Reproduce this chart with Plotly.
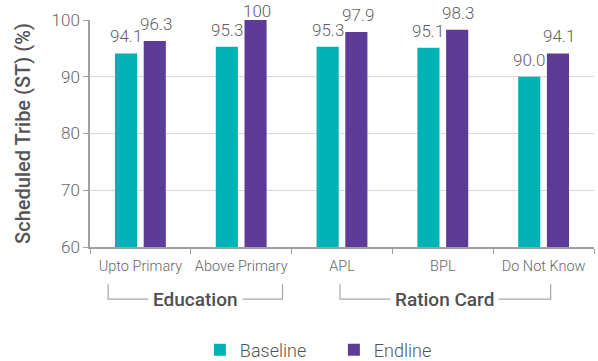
import plotly.graph_objects as go

# Data
categories = ['Upto Primary', 'Above Primary', 'APL', 'BPL', 'Do Not Know']
baseline = [94.1, 95.3, 95.3, 95.1, 90.0]
endline = [96.3, 100, 97.9, 98.3, 94.1]
baseline_text = ['94.1', '95.3', '95.3', '95.1', '90.0']
endline_text = ['96.3', '100', '97.9', '98.3', '94.1']
groups = ['Education', 'Ration Card']

TEAL = '#00B2B3'
PURPLE = '#5C3C97'
FONT = 'Roboto'
PX_PER_UNIT = 227 / 40  # plot height / y range

fig = go.Figure()

fig.add_trace(go.Bar(x=categories, y=baseline, name='Baseline',
                     marker=dict(color=TEAL, line=dict(width=0))))
fig.add_trace(go.Bar(x=categories, y=endline, name='Endline',
                     marker=dict(color=PURPLE, line=dict(width=0))))

# value labels ~10px above each bar, squeezed down near the top of the chart
for vals, labels, shift in [(baseline, baseline_text, -14.5), (endline, endline_text, 15.5)]:
    for cat, v, t in zip(categories, vals, labels):
        gap = min(10, 2 + (100 - v) * PX_PER_UNIT)
        fig.add_annotation(x=cat, y=v, text=t, showarrow=False,
                           xshift=shift, yanchor='bottom', yshift=gap - 5,
                           font=dict(size=17, color='#5f5f5f', weight=300))

fig.update_layout(
    width=598, height=361,
    margin=dict(l=90, r=4, t=20, b=114),
    plot_bgcolor='white', paper_bgcolor='white',
    barmode='group', bargap=0.43, bargroupgap=0.23,
    font=dict(family=FONT, color='#666666'),
    showlegend=True,
    legend=dict(
        orientation='h', x=0.218, xanchor='left',
        yref='container', y=0.03, yanchor='middle',
        font=dict(size=18, color='#555555', weight=300), itemwidth=30,
        entrywidth=89, entrywidthmode='pixels',
        traceorder='normal'
    ),
)

fig.update_yaxes(
    range=[60, 100], dtick=10, automargin=False,
    showgrid=True, gridcolor='#d9d9d9', gridwidth=1,
    showline=True, linecolor='#a0a0a0', linewidth=1.5,
    ticks='outside', ticklen=5, tickcolor='#a0a0a0',
    tickfont=dict(size=17, color='#666666', weight=300),
    title=dict(text='Scheduled Tribe (ST) (%)',
               font=dict(size=20, color='#555555', weight=500), standoff=16),
    zeroline=False
)
fig.update_xaxes(
    automargin=False, tickangle=0, ticklabelstandoff=5,
    showline=True, linecolor='#a0a0a0', linewidth=1.5,
    ticks='outside', ticklen=5, tickcolor='#a0a0a0', tickson='boundaries',
    tickfont=dict(size=14.5, color='#666666', weight=300),
)

# group brackets under the category labels
brackets = [(-0.32, 1.41, groups[0], 0.55), (1.98, 4.07, groups[1], 3.02)]
for x0, x1, label, xc in brackets:
    fig.add_shape(type='path',
                  path=f'M {x0},-0.164 L {x0},-0.23 L {x1},-0.23 L {x1},-0.164',
                  xref='x', yref='paper', line=dict(color='#a8a8a8', width=1.2))
    fig.add_annotation(x=xc, y=-0.23, xref='x', yref='paper', text=label,
                       showarrow=False, bgcolor='white', borderpad=4,
                       yanchor='middle',
                       font=dict(size=19, color='#4f4f4f', weight=500))

# drop the default 8px body margin so the figure fills the window
fig.write_html('out.html', config={'displayModeBar': False},
               post_script="document.body.style.margin='0';")
